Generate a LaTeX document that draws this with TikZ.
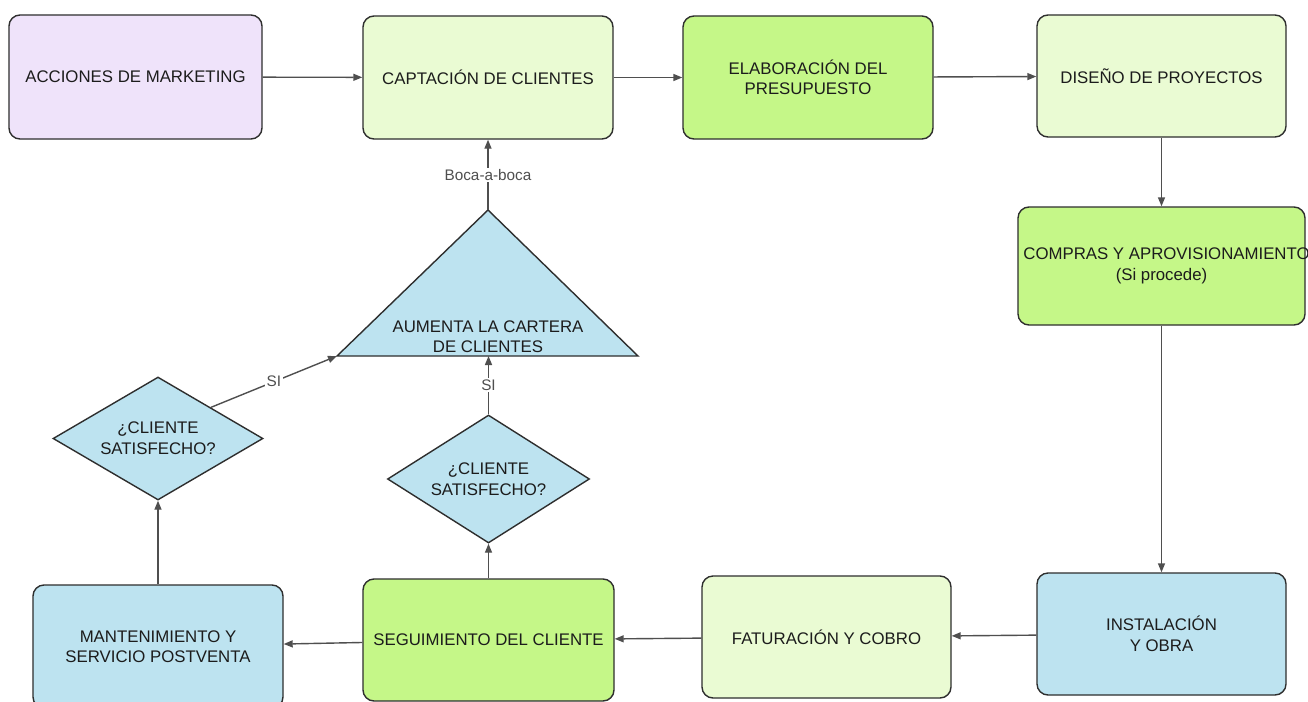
\documentclass[tikz,border=0pt]{standalone}
\usepackage{fontspec}
\setmainfont{Liberation Sans}
\usetikzlibrary{shapes.geometric,arrows.meta}
\definecolor{lav}{HTML}{EFE3FA}
\definecolor{lgreen}{HTML}{EAFBD3}
\definecolor{dgreen}{HTML}{C5F788}
\definecolor{lblue}{HTML}{BDE3F0}
\definecolor{edge}{HTML}{2E2E2E}
\definecolor{conn}{HTML}{4F4F4F}
\definecolor{txt}{HTML}{1C1C1C}
\tikzset{
  stepbox/.style={draw=edge, line width=1.4pt, rounded corners=11pt, inner sep=0pt,
    align=center, text=txt, font=\fontsize{16.8}{20.5}\selectfont},
  decision/.style={diamond, draw=edge, line width=1.4pt, fill=lblue, inner sep=0pt,
    aspect=1.7, align=center, text=txt, font=\fontsize{16.8}{21}\selectfont},
  conarrow/.style={draw=conn, line width=1.4pt, -{Triangle[length=9pt,width=7pt]}},
  lbl/.style={fill=white, inner sep=1.5pt, text=conn, font=\fontsize{15.3}{18}\selectfont}
}
\begin{document}
\begin{tikzpicture}[x=1pt,y=-1pt]
\useasboundingbox (0,0) rectangle (1308,701);
\fill[white] (0,0) rectangle (1308,701);
\begin{scope}
\clip (0,0) rectangle (1308,701);
% boxes
\node[stepbox, fill=lav, minimum width=253pt, minimum height=124pt] (mkt) at (135.5,77) {ACCIONES DE MARKETING};
\node[stepbox, fill=lgreen, minimum width=250pt, minimum height=123pt] (capt) at (488,77.5) {CAPTACIÓN DE CLIENTES};
\node[stepbox, fill=dgreen, minimum width=250pt, minimum height=123pt] (elab) at (808,77.5) {ELABORACIÓN DEL\\PRESUPUESTO};
\node[stepbox, fill=lgreen, minimum width=249pt, minimum height=122pt] (dis) at (1161.5,76) {DISEÑO DE PROYECTOS};
\node[stepbox, fill=dgreen, minimum width=287pt, minimum height=118pt] (comp) at (1161.5,266) {\makebox[0pt][c]{\hspace*{10pt}COMPRAS Y APROVISIONAMIENTO}\\(Si procede)};
\node[stepbox, fill=lblue, minimum width=249pt, minimum height=122pt] (inst) at (1161.5,634) {INSTALACIÓN\\Y OBRA};
\node[stepbox, fill=lgreen, minimum width=249pt, minimum height=122pt] (fact) at (826.5,637) {FATURACIÓN Y COBRO};
\node[stepbox, fill=dgreen, minimum width=251pt, minimum height=122pt] (seg) at (488.5,640) {SEGUIMIENTO DEL CLIENTE};
\node[stepbox, fill=lblue, minimum width=250pt, minimum height=123pt] (mant) at (158,646.5) {MANTENIMIENTO Y\\SERVICIO POSTVENTA};
% decisions
\node[decision, minimum width=210pt, minimum height=123pt] (d1) at (158,438.5) {¿CLIENTE\\SATISFECHO?};
\node[decision, minimum width=202pt, minimum height=128pt] (d2) at (488.5,479) {¿CLIENTE\\SATISFECHO?};
% triangle
\coordinate (triA) at (488,210);
\coordinate (triL) at (337,356);
\coordinate (triR) at (638,356);
\coordinate (triB) at (488.5,356);
\draw[edge, line width=1.4pt, fill=lblue, line join=miter] (triA) -- (triR) -- (triL) -- cycle;
\node[align=center, text=txt, font=\fontsize{16.8}{20}\selectfont] (tri) at (488,337) {AUMENTA LA CARTERA\\DE CLIENTES};
% connectors
\draw[conarrow] (mkt) -- (capt);
\draw[conarrow] (capt) -- (elab);
\draw[conarrow] (elab) -- (dis);
\draw[conarrow] (dis) -- (comp);
\draw[conarrow] (comp) -- (inst);
\draw[conarrow] (inst) -- (fact);
\draw[conarrow] (fact) -- (seg);
\draw[conarrow] (seg) -- (mant);
\draw[conarrow] (mant) -- (d1);
\draw[conarrow] (seg) -- (d2);
\draw[conarrow] (d2.north) -- (triB) node[lbl, pos=0.5] {SI};
\draw[conarrow] (d1.north east) -- (triL) node[lbl, pos=0.5] {SI};
\draw[conarrow] (triA) -- (capt.south) node[lbl, pos=0.5] {Boca-a-boca};
\end{scope}
\end{tikzpicture}
\end{document}
